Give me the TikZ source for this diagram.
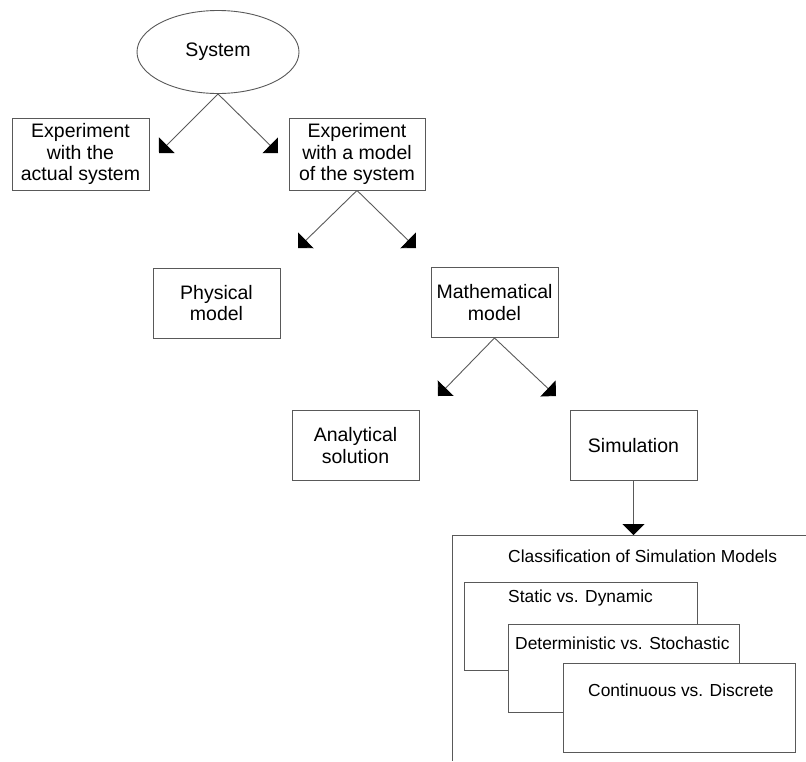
\documentclass[tikz,border=0pt]{standalone}
\usepackage{fontspec}
\setmainfont{Liberation Sans}
\usetikzlibrary{positioning,shapes.geometric,arrows.meta}

\begin{document}
\begin{tikzpicture}[x=1pt, y=-1pt]

% Styles
\tikzset{
    boxstyle/.style={rectangle, draw=black!65, line width=0.9pt, fill=white, align=center, inner sep=0pt, font=\fontsize{19.5}{21.7}\selectfont},
    branch/.style={boxstyle, minimum width=127pt, minimum height=70pt},
    layer/.style={rectangle, draw=black!65, line width=0.9pt, fill=white, inner sep=0pt},
    caption/.style={anchor=west, inner sep=0pt, font=\fontsize{17.4}{20}\selectfont},
    arrow/.style={-{Triangle[length=11pt, width=22pt, color=black]}, draw=black!65, line width=0.9pt}
}

\useasboundingbox (0,0) rectangle (806,761);

% System
\node[boxstyle, ellipse, minimum width=162pt, minimum height=83pt] (system) at (218,52) {System};

% First level
\node[boxstyle, minimum width=137pt, minimum height=72pt] (actual) at (80.5,154) {Experiment\\with the\\actual system};
\node[boxstyle, minimum width=136pt, minimum height=72pt] (modelexp) at (357,154) {Experiment\\with a model\\of the system};

% Second level
\node[branch] (physical) at (216.5,303) {Physical\\model};
\node[branch] (math) at (494.5,302.5) {Mathematical\\model};

% Third level
\node[branch] (analytical) at (355.5,445.5) {Analytical\\solution};
\node[branch] (sim) at (633.5,445.5) {Simulation};

% Arrow ends
\coordinate (t1) at (159,153);
\coordinate (t2) at (278,153);
\coordinate (t3) at (298,248);
\coordinate (t4) at (416,248);
\coordinate (t5) at (438,396);
\coordinate (t6) at (556,396);

% Arrows
\foreach \src/\dst in {system/t1, system/t2, modelexp/t3, modelexp/t4, math/t5, math/t6} {
    \draw[arrow] (\src.south) -- (\dst);
}

% Classification frame
\coordinate (clscorner) at (452,535);
\draw[draw=black!65, line width=0.9pt] (806,535) -- (clscorner) -- (452,761);
\draw[arrow] (sim.south) -- (sim.south |- clscorner);
\node[caption] (clstitle) at (508,556) {Classification of Simulation Models};

% Layers
\node[layer, minimum width=233pt, minimum height=88pt] (static) at (580.5,626) {};
\node[caption] (statictxt) at (508,598) {Static vs. Dynamic};
\node[layer, minimum width=231pt, minimum height=88pt] (determ) at (623.5,668) {};
\node[caption] (determtxt) at (515,643) {Deterministic vs. Stochastic};
\node[layer, minimum width=232pt, minimum height=89pt] (cont) at (679,707.5) {};
\node[caption] (conttxt) at (588,690) {Continuous vs. Discrete};

\end{tikzpicture}
\end{document}
